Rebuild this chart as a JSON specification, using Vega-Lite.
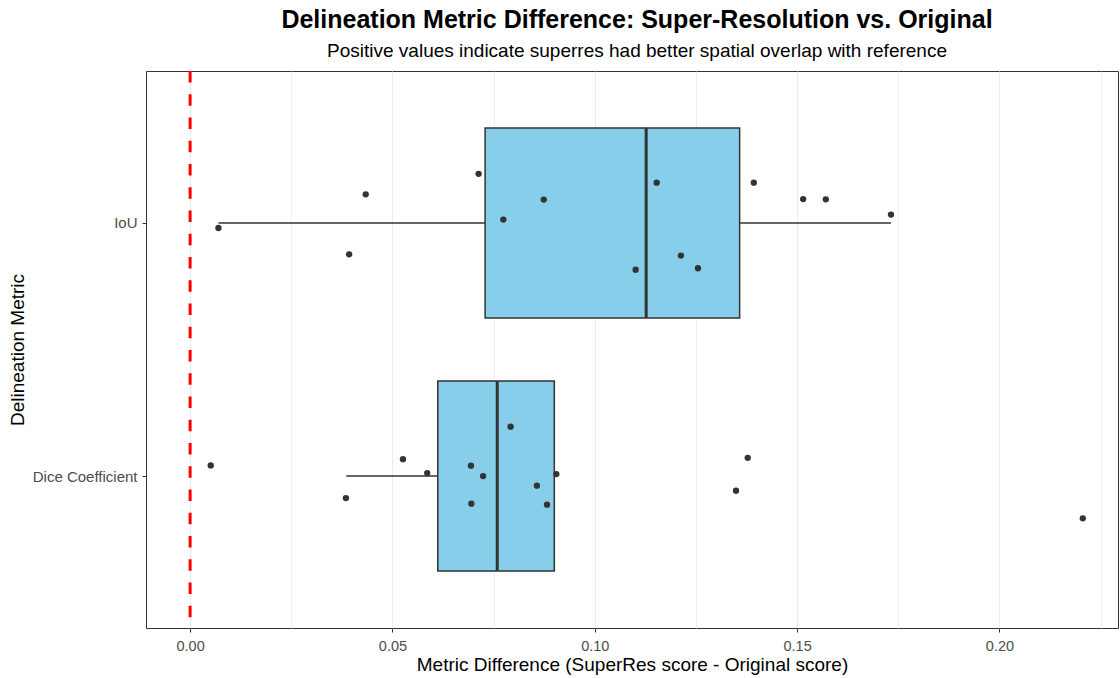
{
  "$schema": "https://vega.github.io/schema/vega-lite/v6.json",
  "autosize": {"type": "none"},
  "width": 972,
  "height": 557,
  "padding": {"left": 146, "top": 71, "right": 2, "bottom": 50},
  "background": "white",
  "title": {
    "text": "Delineation Metric Difference: Super-Resolution vs. Original",
    "subtitle": "Positive values indicate superres had better spatial overlap with reference",
    "anchor": "middle",
    "dx": 5,
    "font": "Liberation Sans",
    "fontSize": 25,
    "fontWeight": "bold",
    "color": "black",
    "subtitleFont": "Liberation Sans",
    "subtitleFontSize": 19,
    "subtitleColor": "black",
    "subtitlePadding": 9,
    "offset": 9
  },
  "datasets": {
    "box": [
      {"metric": "IoU", "pos": 2, "lower": 0.0070, "q1": 0.0729, "median": 0.1127, "q3": 0.1358, "upper": 0.1732},
      {"metric": "Dice Coefficient", "pos": 1, "lower": 0.0386, "q1": 0.0612, "median": 0.0759, "q3": 0.0900, "upper": 0.0905}
    ],
    "pts": [
      {"metric": "IoU", "diff": 0.0070, "y": 1.980},
      {"metric": "IoU", "diff": 0.0434, "y": 2.113},
      {"metric": "IoU", "diff": 0.0393, "y": 1.876},
      {"metric": "IoU", "diff": 0.0713, "y": 2.194},
      {"metric": "IoU", "diff": 0.0774, "y": 2.013},
      {"metric": "IoU", "diff": 0.0874, "y": 2.092},
      {"metric": "IoU", "diff": 0.1101, "y": 1.815},
      {"metric": "IoU", "diff": 0.1153, "y": 2.159},
      {"metric": "IoU", "diff": 0.1213, "y": 1.871},
      {"metric": "IoU", "diff": 0.1255, "y": 1.821},
      {"metric": "IoU", "diff": 0.1393, "y": 2.159},
      {"metric": "IoU", "diff": 0.1515, "y": 2.094},
      {"metric": "IoU", "diff": 0.1571, "y": 2.093},
      {"metric": "IoU", "diff": 0.1732, "y": 2.033},
      {"metric": "Dice Coefficient", "diff": 0.0051, "y": 1.042},
      {"metric": "Dice Coefficient", "diff": 0.0385, "y": 0.913},
      {"metric": "Dice Coefficient", "diff": 0.0526, "y": 1.067},
      {"metric": "Dice Coefficient", "diff": 0.0586, "y": 1.012},
      {"metric": "Dice Coefficient", "diff": 0.0694, "y": 1.041},
      {"metric": "Dice Coefficient", "diff": 0.0724, "y": 1.000},
      {"metric": "Dice Coefficient", "diff": 0.0695, "y": 0.891},
      {"metric": "Dice Coefficient", "diff": 0.0792, "y": 1.195},
      {"metric": "Dice Coefficient", "diff": 0.0857, "y": 0.962},
      {"metric": "Dice Coefficient", "diff": 0.0882, "y": 0.887},
      {"metric": "Dice Coefficient", "diff": 0.0905, "y": 1.008},
      {"metric": "Dice Coefficient", "diff": 0.1349, "y": 0.942},
      {"metric": "Dice Coefficient", "diff": 0.1378, "y": 1.072},
      {"metric": "Dice Coefficient", "diff": 0.2206, "y": 0.833}
    ],
    "ref": [{"x": 0}]
  },
  "layer": [
    {
      "data": {"name": "box"},
      "mark": {"type": "rule", "color": "#333333", "strokeWidth": 1.5},
      "encoding": {
        "x": {
          "field": "lower", "type": "quantitative",
          "scale": {"domain": [-0.0109, 0.2293], "nice": false, "zero": false, "padding": 0},
          "axis": {
            "values": [0, 0.025, 0.05, 0.075, 0.1, 0.125, 0.15, 0.175, 0.2, 0.225],
            "labelExpr": "abs(datum.value * 20 - round(datum.value * 20)) < 0.000001 ? format(datum.value, '.2f') : ''",
            "tickOpacity": {"condition": {"test": "abs(datum.value * 20 - round(datum.value * 20)) < 0.000001", "value": 1}, "value": 0},
            "gridWidth": {"condition": {"test": "abs(datum.value * 20 - round(datum.value * 20)) < 0.000001", "value": 1}, "value": 0.8},
            "title": "Metric Difference (SuperRes score - Original score)",
            "labelFontSize": 14.5,
            "labelPadding": 7,
            "titlePadding": 3
          }
        },
        "x2": {"field": "q1"},
        "y": {
          "field": "pos", "type": "quantitative",
          "scale": {"domain": [0.4, 2.6], "nice": false, "zero": false, "padding": 0},
          "axis": {
            "values": [1, 2],
            "labelExpr": "datum.value == 1 ? 'Dice Coefficient' : 'IoU'",
            "grid": false,
            "title": "Delineation Metric",
            "labelFontSize": 15,
            "labelPadding": 5,
            "titlePadding": 5
          }
        }
      }
    },
    {
      "data": {"name": "box"},
      "mark": {"type": "rule", "color": "#333333", "strokeWidth": 1.5},
      "encoding": {
        "x": {"field": "q3", "type": "quantitative"},
        "x2": {"field": "upper"},
        "y": {"field": "pos", "type": "quantitative"}
      }
    },
    {
      "data": {"name": "box"},
      "mark": {"type": "bar", "fill": "#87CEEB", "stroke": "#333333", "strokeWidth": 1.5, "size": 190, "orient": "horizontal"},
      "encoding": {
        "x": {"field": "q1", "type": "quantitative"},
        "x2": {"field": "q3"},
        "y": {"field": "pos", "type": "quantitative"}
      }
    },
    {
      "data": {"name": "box"},
      "mark": {"type": "tick", "orient": "vertical", "color": "#333333", "size": 190, "thickness": 3, "opacity": 1},
      "encoding": {
        "x": {"field": "median", "type": "quantitative"},
        "y": {"field": "pos", "type": "quantitative"}
      }
    },
    {
      "data": {"name": "ref"},
      "mark": {"type": "rule", "color": "#FF0000", "strokeWidth": 3, "strokeDash": [11.6, 11.65]},
      "encoding": {
        "x": {"field": "x", "type": "quantitative"}
      }
    },
    {
      "data": {"name": "pts"},
      "mark": {"type": "circle", "color": "#333333", "opacity": 1, "size": 40},
      "encoding": {
        "x": {"field": "diff", "type": "quantitative"},
        "y": {"field": "y", "type": "quantitative"}
      }
    }
  ],
  "config": {
    "view": {"stroke": "#333333", "strokeWidth": 1},
    "axis": {
      "labelFont": "Liberation Sans",
      "labelColor": "#4D4D4D",
      "titleFont": "Liberation Sans",
      "titleFontSize": 19,
      "titleFontWeight": "normal",
      "titleColor": "black",
      "domain": false,
      "tickColor": "#333333",
      "tickSize": 4,
      "gridColor": "#EBEBEB"
    }
  }
}
